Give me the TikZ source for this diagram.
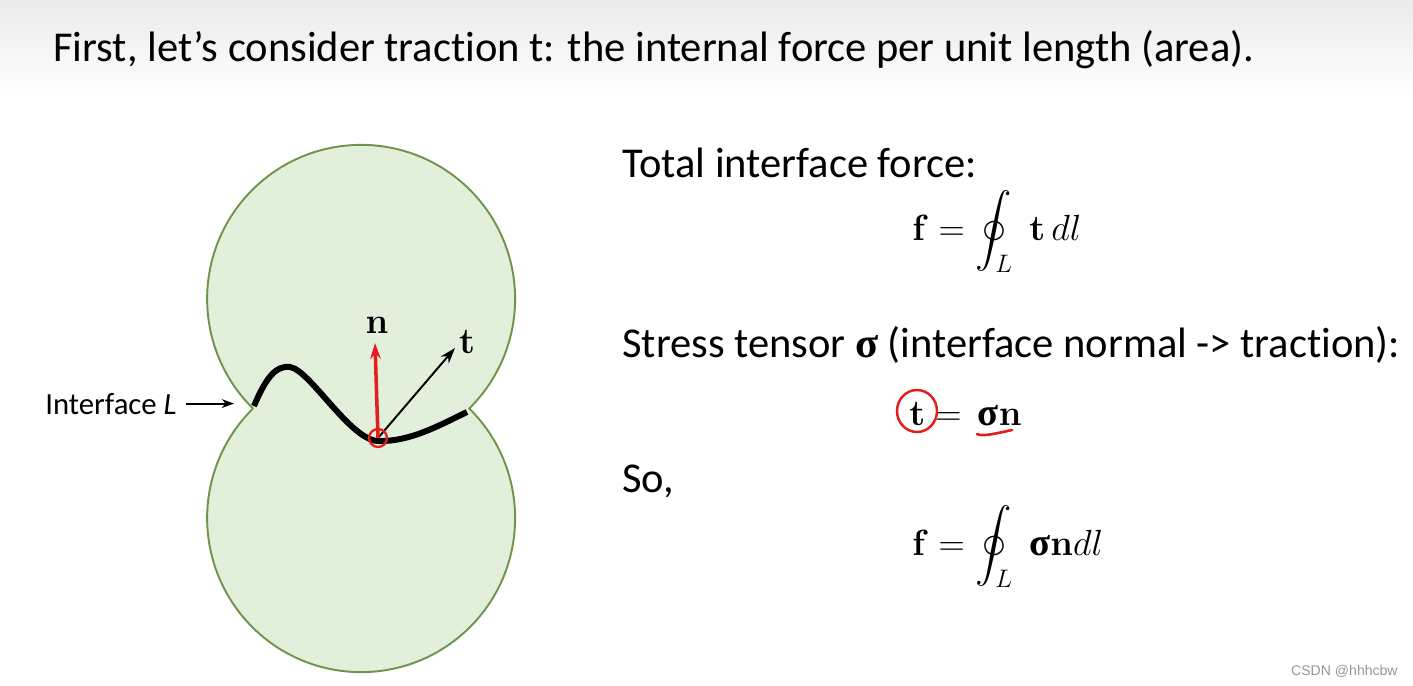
\documentclass[tikz,border=0pt]{standalone}
\usepackage{amsmath}
\usepackage[no-math]{fontspec}
\setmainfont{Carlito}[Ligatures=NoCommon]
\newfontfamily\markfont{Liberation Sans}
\newfontfamily\greekbold{Liberation Serif}[BoldFont={Liberation Serif Bold}]
\newcommand{\sigmavec}{\text{\greekbold\bfseries σ}}
\usetikzlibrary{arrows.meta,positioning,calc}
\definecolor{bodygreen}{RGB}{226,239,218}
\definecolor{edgegreen}{RGB}{112,148,78}
\definecolor{penred}{RGB}{226,30,30}
\definecolor{headgrey}{RGB}{234,234,234}
\definecolor{markgrey}{RGB}{150,150,150}

\begin{document}
\begin{tikzpicture}[x=0.02cm, y=-0.02cm,
    slidetext/.style={anchor=base west, inner sep=0pt, font=\fontsize{24.2}{28}\selectfont},
    eqtext/.style={anchor=base west, inner sep=0pt, font=\fontsize{22}{26}\selectfont},
    veclabel/.style={inner sep=1pt, font=\fontsize{20}{24}\selectfont},
    vecarrow/.style={line width=1.1pt, -{Stealth[length=9pt,width=6pt]}}]
    % Slide frame, pixel units, y pointing down
    \useasboundingbox (0,0) rectangle (1413,686);
    \shade[top color=headgrey, bottom color=white] (0,0) rectangle (1413,95);
    % Two-disc body with the interface between them
    \fill[bodygreen] (361,299) circle[radius=154];
    \fill[bodygreen] (361,518) circle[radius=154];
    \draw[edgegreen, line width=1.1pt] (253,408.5)
      arc[start angle=134.6, end angle=405.4, radius=154]
      arc[start angle=-45.4, end angle=225.4, radius=154];
    \draw[line width=3.4pt] (254,406) .. controls (265,380) and (275,365) .. (290,367)
      .. controls (310,370) and (350,440) .. (378,441)
      .. controls (410,442) and (440,425) .. (467,412);
    % Normal and traction at one point of the interface
    \coordinate (o) at (378,438);
    \coordinate (ntip) at (375,343);
    \coordinate (ttip) at (455,348);
    \node[veclabel] (nlab) at (377,325) {$\mathbf{n}$};
    \node[veclabel] (tlab) at (467,342) {$\mathbf{t}$};
    \draw[vecarrow] (o) -- (ttip);
    \draw[vecarrow, penred, line width=2pt] (o) -- (ntip);
    \draw[penred, line width=1.3pt] (o) circle[radius=9];
    % Interface label
    \node[anchor=base west, inner sep=0pt, font=\fontsize{17.5}{20}\selectfont] (iflab) at (45,414) {Interface \textit{L}};
    \coordinate (pinch) at (234,408);
    \draw[line width=1.1pt, -{Stealth[length=7pt,width=5pt]}, shorten <=5pt] (iflab.east) -- (iflab.east -| pinch);
    % Slide text and equations
    \node[slidetext] (title) at (53,62) {First, let’s consider traction t: the internal force per unit length (area).};
    \node[slidetext] (total) at (622,177) {Total interface force:};
    \node[eqtext] (eqone) at (912,240) {$\displaystyle \mathbf{f} = \oint_L \;\mathbf{t}\,dl$};
    \node[slidetext] (stress) at (622,357) {Stress tensor $\sigmavec$ (interface normal -> traction):};
    \node[eqtext] (eqtwo) at (909,425) {$\mathbf{t}= \,\sigmavec\mathbf{n}$};
    \node[slidetext] (so) at (622,492) {So,};
    \node[eqtext] (eqthree) at (912,555) {$\displaystyle \mathbf{f} = \oint_L \;\sigmavec\mathbf{n}dl$};
    % Pen marks on the second equation
    \draw[penred, line width=1.4pt] (917,411) ellipse[x radius=20, y radius=21];
    \draw[penred, line width=1.5pt, line cap=round] (977,434) .. controls (983,437) and (998,433) .. (1012,430);
    % Watermark
    \node[anchor=base east, inner sep=0pt, font=\markfont\fontsize{8}{10}\selectfont, text=markgrey] (mark) at (1398,675) {CSDN @hhhcbw};
\end{tikzpicture}
\end{document}
